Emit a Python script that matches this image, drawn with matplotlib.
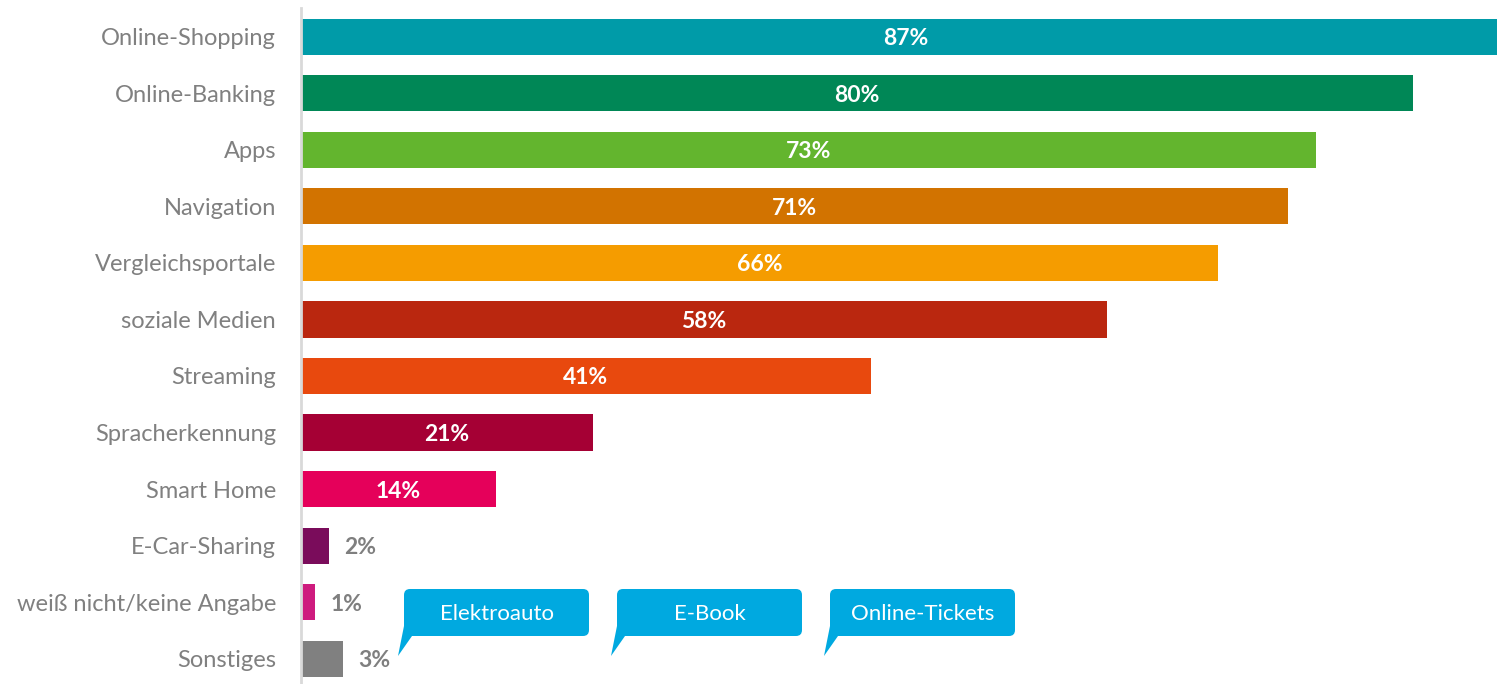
import matplotlib
matplotlib.use("Agg")
import matplotlib.pyplot as plt
from matplotlib.patches import FancyBboxPatch, Polygon
from matplotlib.transforms import IdentityTransform

# Data
categories = ["Online-Shopping", "Online-Banking", "Apps", "Navigation",
              "Vergleichsportale", "soziale Medien", "Streaming",
              "Spracherkennung", "Smart Home", "E-Car-Sharing",
              "weiß nicht/keine Angabe", "Sonstiges"]
values = [87, 80, 73, 71, 66, 58, 41, 21, 14, 2, 1, 3]
colors = ["#009BA8", "#008756", "#63B52E", "#D27300", "#F59C00", "#BA270F",
          "#E8490E", "#A50034", "#E5005A", "#7A0C5B", "#CE1B7E", "#808080"]
callouts = ["Elektroauto", "E-Book", "Online-Tickets"]

W, H = 1497, 684
DPI = 100
FONT = "Lato"

fig = plt.figure(figsize=(W / DPI, H / DPI), dpi=DPI)
ax = fig.add_axes([301 / W, -3 / H, 1 - 301 / W, 678.6 / H])

ypos = list(range(len(categories)))
ax.barh(ypos, values, height=0.64, color=colors)
ax.set_ylim(len(categories) - 0.5, -0.5)
ax.set_xlim(0, (W - 301) / 13.9)

for y, v in zip(ypos, values):
    if v >= 10:
        ax.text(v / 2, y, f"{v}%", ha="center", va="center_baseline",
                color="white", fontsize=16.5, fontweight="bold", family=FONT)
    else:
        ax.text(v + 1.1, y, f"{v}%", ha="left", va="center_baseline",
                color="#7F7F7F", fontsize=16.5, fontweight="bold", family=FONT)

ax.set_yticks(ypos)
ax.set_yticklabels(categories, fontsize=17, color="#808080", family=FONT)
ax.tick_params(axis="y", length=0, pad=18)
ax.set_xticks([])
for s in ["top", "right", "bottom"]:
    ax.spines[s].set_visible(False)
ax.spines["left"].set_color("#D9D9D9")
ax.spines["left"].set_linewidth(2)

# Speech-bubble callouts (pixel coordinates, y from top)
def px(x, y):
    return (x, H - y)

box_lefts = [404, 617, 830]
box_w, top, bottom = 185, 589, 636
for name, x0 in zip(callouts, box_lefts):
    bx, by = px(x0, bottom)
    box = FancyBboxPatch((bx, by), box_w, bottom - top,
                         boxstyle="round,pad=0,rounding_size=6",
                         transform=IdentityTransform(), facecolor="#00A9E0",
                         edgecolor="none", zorder=5)
    fig.patches.append(box)
    tail = Polygon([px(x0, 626), px(x0 - 6, 656), px(x0 + 8, 636)],
                   closed=True, transform=IdentityTransform(),
                   facecolor="#00A9E0", edgecolor="none", zorder=5)
    fig.patches.append(tail)
    tx, ty = px(x0 + box_w / 2, (top + bottom) / 2)
    fig.text(tx / W, ty / H, name, ha="center", va="center_baseline",
             color="white", fontsize=16, family=FONT, zorder=6)

fig.savefig("out.png", dpi=DPI)
